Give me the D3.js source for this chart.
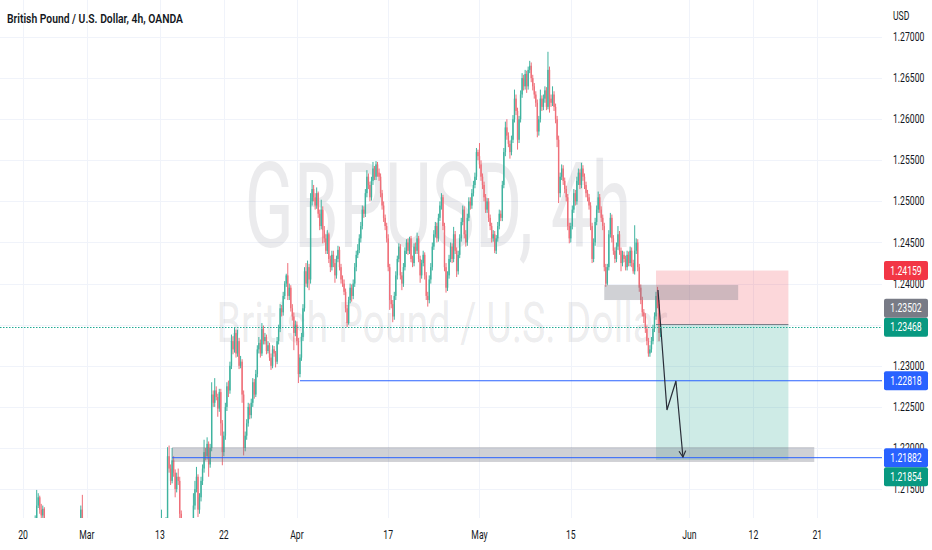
<!DOCTYPE html>
<html>
<head>
<meta charset="utf-8">
<script src="https://cdn.jsdelivr.net/npm/d3@7"></script>
<style>
body{margin:0;background:#fff;}
svg{display:block;font-family:Roboto,"Noto Sans",sans-serif;}
</style>
</head>
<body>
<svg id="chart" width="932" height="550"></svg>
<script>
// 4h candles, GBPUSD, Feb 20 -> May 26. values in pips above 1.2000, one line per week
// open of each candle is the previous close
var firstOpen = 35;
var closePips = [
	40,45,38,52,60,58, 70,85,110,130,140,125, 118,126,105,80,70,60, 50,35,20,10,0,5, -10,-20,-40,-55,-60,-70,
	-50,-30,-10,20,50,60, 80,100,125,98,85,80, 70,60,40,30,20,30, 20,10,-20,-30,-10,-15, -10,10,20,35,30,20,
	30,25,15,0,-20,-30, -40,-50,-100,-150,-160,-165, -170,-180,-190,-175,-160,-165, -150,-130,-120,-100,-90,-85, -80,-60,-30,0,20,30,
	70,100,95,105,110,190, 175,160,185,170,150,165, 160,120,80,60,70,90, 85,95,100,105,130,150, 165,125,140,160,175,195,
	190,205,180,200,265,255, 270,262,248,268,230,195, 215,250,275,270,300,330, 320,340,315,330,300,305, 265,200,215,230,250,240,
	255,280,265,290,320,328, 315,345,330,335,318,325, 310,300,320,315,305,330, 345,370,365,385,400,410, 385,395,370,360,340,350,
	330,290,310,335,370,415, 400,420,405,500,515,505, 495,510,485,470,490,465, 455,440,460,430,420,435, 425,410,430,441,420,405,
	400,390,370,352,380,395, 385,400,420,435,441,455, 470,490,485,510,530,520, 505,525,540,530,545,535, 530,510,495,480,470,455,
	420,380,375,360,385,410, 430,445,410,400,420,440, 450,440,455,430,425,445, 440,455,430,410,425,435, 410,385,380,405,420,445,
	460,470,455,480,495,505, 470,420,395,410,430,445, 430,460,440,415,435,455, 475,490,460,450,480,500, 495,510,520,530,560,555,
	545,530,520,505,490,500, 480,470,455,460,440,455, 470,485,480,520,560,590, 580,570,560,575,600,625, 610,575,600,630,650,640,
	655,640,660,665,650,640, 630,620,585,600,625,615, 625,635,615,660,625,620, 630,615,600,575,510,530, 540,525,515,505,470,455,
	470,490,510,500,525,535, 520,540,530,520,510,505, 495,470,430,450,475,490, 505,490,480,470,420,400, 420,460,480,455,440,430,
	445,460,440,425,435,430, 420,435,425,440,425,415, 440,450,420,395,380,365, 360,345,330,315,320,330, 345,360,385,375,340,347
];
var highPips = [
	44,49,47,55,64,63, 74,90,118,149,145,142, 132,130,128,110,85,75, 64,53,38,24,13,9, 8,-6,-16,-36,-50,-56,
	-46,-26,-5,25,56,66, 85,105,130,143,100,90, 84,74,63,45,34,34, 34,24,14,-15,-6,-6, -6,15,25,40,39,34,
	34,34,28,19,4,-15, -26,-36,-45,-95,-145,-156, -160,-166,-176,-171,-155,-156, -146,-125,-115,-95,-86,-80, -75,-55,-25,5,26,35,
	76,125,104,110,116,201, 203,180,200,190,174,170, 175,165,124,85,74,94, 94,99,104,110,145,160, 177,168,145,165,180,210,
	200,213,208,205,280,270, 285,275,266,272,272,234, 220,255,280,282,305,338, 336,346,344,344,334,312, 308,270,220,235,255,254,
	260,285,284,295,325,335, 332,352,349,340,338,330, 328,315,325,324,318,335, 350,375,374,390,403,412, 425,400,398,375,365,355,
	354,334,314,340,375,420, 425,428,424,510,526,520, 510,517,512,490,502,494, 470,460,465,462,434,440, 440,430,434,446,445,424,
	410,405,394,374,384,400, 399,405,425,440,448,460, 475,495,494,515,538,534, 524,530,548,543,549,548, 540,534,514,500,484,474,
	460,424,386,380,390,415, 434,449,448,414,425,444, 454,455,457,458,434,449, 450,462,458,434,429,440, 438,414,390,410,425,450,
	465,475,474,485,500,510, 508,474,425,415,435,450, 449,469,464,444,440,460, 480,495,494,465,485,505, 505,515,525,535,565,563,
	571,550,534,524,509,504, 504,484,474,465,464,459, 475,490,489,525,565,597, 600,584,574,580,605,636, 630,614,604,635,656,654,
	660,659,664,671,669,654, 644,634,624,604,636,629, 630,640,639,682,664,630, 640,634,619,604,580,535, 545,544,529,519,509,474,
	474,495,515,514,530,540, 539,547,544,534,524,514, 509,499,474,455,480,495, 512,509,494,484,474,424, 424,465,486,484,459,444,
	450,470,464,444,440,439, 434,440,439,445,444,429, 471,455,454,424,399,384, 369,364,349,334,325,335, 350,365,390,396,380,352
];
var lowPips = [
	31,37,35,36,49,55, 55,66,82,106,127,120, 112,115,100,76,64,55, 46,30,15,4,-4,-3, -14,-25,-46,-60,-66,-75,
	-74,-54,-34,-14,15,46, 56,76,96,95,80,75, 66,55,35,25,15,17, 16,5,-25,-36,-34,-19, -19,-14,6,16,26,15,
	16,21,11,-5,-25,-35, -45,-56,-106,-156,-166,-170, -175,-185,-197,-194,-179,-170, -170,-155,-135,-125,-105,-94, -90,-85,-64,-35,-4,15,
	26,65,90,90,100,105, 170,155,157,165,140,146, 155,100,75,55,54,66, 80,81,91,96,100,125, 146,116,120,135,155,170,
	185,186,165,176,196,250, 250,258,238,244,215,179, 190,210,245,262,266,296, 314,316,310,311,296,297, 255,191,196,210,226,235,
	236,250,260,262,286,315, 310,312,326,326,314,315, 306,295,297,311,298,302, 326,341,360,361,381,396, 380,380,366,355,319,336,
	325,279,286,306,330,366, 396,395,392,400,495,500, 490,491,480,465,466,449, 450,436,436,425,414,416, 420,401,406,426,416,400,
	396,386,365,347,350,376, 378,381,396,415,431,437, 450,466,480,481,505,515, 500,501,520,526,526,530, 525,505,490,475,465,450,
	415,368,370,353,356,380, 405,426,405,392,396,416, 436,435,436,426,420,421, 436,436,426,401,406,421, 405,380,372,376,400,416,
	441,456,450,451,476,490, 465,415,389,391,406,426, 425,426,436,408,411,431, 451,471,455,445,446,476, 490,491,506,516,526,550,
	540,525,515,500,486,486, 475,465,450,451,437,436, 451,466,476,476,516,555, 575,566,552,556,571,596, 605,563,571,596,626,635,
	636,632,636,656,645,635, 625,615,578,580,596,610, 611,620,611,612,608,615, 616,610,595,566,498,505, 526,520,510,500,465,449,
	450,466,486,495,496,520, 515,516,525,515,505,500, 490,465,425,426,446,471, 486,486,475,465,415,396, 398,416,456,450,435,425,
	426,441,435,415,421,426, 416,416,421,421,420,412, 411,436,415,390,375,360, 352,340,325,311,311,316, 326,341,356,370,330,335
];

// time axis (trading-day index, 6 candles a day)
var dayTicks = [0, 7, 15, 22, 30, 40, 50, 60, 73, 80, 87];
var dayLabels = ['20', 'Mar', '13', '22', 'Apr', '17', 'May', '15', 'Jun', '12', '21'];
var priceTicks = [1.27, 1.265, 1.26, 1.255, 1.25, 1.245, 1.24, 1.235, 1.23, 1.225, 1.22, 1.215];

var lastPrice = 1.23468;
// short position tool
var stopPrice = 1.24159;
var entryPrice = 1.23502;
var targetPrice = 1.21854;
var positionFrom = 416, positionTo = 503;
// horizontal levels
var levelPrices = [1.22818, 1.21882];
var levelFrom = [182, 98];
// grey zones
var zoneFrom = [98, 382];
var zoneTo = [520, 470];
var zoneTop = [1.22012, 1.23983];
var zoneBottom = [1.21830, 1.23800];
// projected path
var pathIdx = [417.3, 423.2, 429.1, 433.7];
var pathPrice = [1.23922, 1.22462, 1.22815, 1.21890];

var W = 932, H = 550, plotRight = 882, plotBottom = 518;
var svg = d3.select('#chart');

var x = d3.scaleLinear().domain([0, 87 * 6]).range([23, 817.3]);
var y = d3.scaleLinear().domain([1.215, 1.27]).range([489.1, 37]);

function toPrice(v){ return 1.2 + v / 10000; }

var candles = closePips.map(function(c, i){
	var o = i == 0 ? firstOpen : closePips[i - 1];
	return {i: i, o: toPrice(o), h: toPrice(highPips[i]), l: toPrice(lowPips[i]), c: toPrice(c)};
});

// text squeezed horizontally like the snapshot
function txt(g, px, py, s, size, fill, anchor){
	return g.append('text')
		.attr('transform', 'translate(' + px + ',' + py + ') scale(0.72,1)')
		.attr('text-anchor', anchor || 'start')
		.attr('dominant-baseline', 'central')
		.attr('font-size', size)
		.attr('fill', fill)
		.text(s);
}

svg.append('defs').append('clipPath').attr('id', 'plotclip')
	.append('rect').attr('x', 0).attr('y', 0).attr('width', plotRight).attr('height', plotBottom);

// grid
var grid = svg.append('g').attr('stroke', '#f0f3fa').attr('stroke-width', 1);
grid.selectAll('.hg').data(priceTicks).enter().append('line')
	.attr('x1', 0).attr('x2', plotRight)
	.attr('y1', function(d){ return Math.round(y(d)) + 0.5; })
	.attr('y2', function(d){ return Math.round(y(d)) + 0.5; });
grid.selectAll('.vg').data(dayTicks).enter().append('line')
	.attr('y1', 0).attr('y2', plotBottom)
	.attr('x1', function(d){ return Math.round(x(d * 6)) + 0.5; })
	.attr('x2', function(d){ return Math.round(x(d * 6)) + 0.5; });

// watermark
var wm = svg.append('g').attr('fill', '#787b86').attr('fill-opacity', 0.15).attr('text-anchor', 'middle');
wm.append('text').attr('x', 438).attr('y', 247).attr('font-size', 118)
	.attr('textLength', 387).attr('lengthAdjust', 'spacingAndGlyphs').text('GBPUSD, 4h');
wm.append('text').attr('x', 442).attr('y', 342).attr('font-size', 55)
	.attr('textLength', 451).attr('lengthAdjust', 'spacingAndGlyphs').text('British Pound / U.S. Dollar');

var plot = svg.append('g').attr('clip-path', 'url(#plotclip)');

// candles
var cg = plot.append('g');
cg.selectAll('line').data(candles).enter().append('line')
	.attr('x1', function(d){ return x(d.i); })
	.attr('x2', function(d){ return x(d.i); })
	.attr('y1', function(d){ return y(d.h); })
	.attr('y2', function(d){ return y(d.l); })
	.attr('stroke', function(d){ return d.c >= d.o ? '#3fb39f' : '#ef6f79'; })
	.attr('stroke-width', 1);
cg.selectAll('rect').data(candles).enter().append('rect')
	.attr('x', function(d){ return x(d.i) - 0.7; })
	.attr('width', 1.4)
	.attr('y', function(d){ return y(Math.max(d.o, d.c)); })
	.attr('height', function(d){ return Math.max(1, Math.abs(y(d.o) - y(d.c))); })
	.attr('fill', function(d){ return d.c >= d.o ? '#3fb39f' : '#ef6f79'; });

// position tool
plot.append('rect')
	.attr('x', x(positionFrom)).attr('width', x(positionTo) - x(positionFrom))
	.attr('y', y(stopPrice)).attr('height', y(entryPrice) - y(stopPrice))
	.attr('fill', 'rgba(242,54,69,0.2)');
plot.append('rect')
	.attr('x', x(positionFrom)).attr('width', x(positionTo) - x(positionFrom))
	.attr('y', y(entryPrice)).attr('height', y(targetPrice) - y(entryPrice))
	.attr('fill', 'rgba(8,153,129,0.2)');
plot.append('line')
	.attr('x1', x(positionFrom)).attr('x2', x(positionTo))
	.attr('y1', y(entryPrice)).attr('y2', y(entryPrice))
	.attr('stroke', '#787b86').attr('stroke-width', 1);

// grey zones
plot.selectAll('.zone').data(zoneFrom).enter().append('rect')
	.attr('x', function(d){ return x(d); })
	.attr('width', function(d, i){ return x(zoneTo[i]) - x(d); })
	.attr('y', function(d, i){ return y(zoneTop[i]); })
	.attr('height', function(d, i){ return y(zoneBottom[i]) - y(zoneTop[i]); })
	.attr('fill', 'rgba(120,123,134,0.35)');

// levels
plot.selectAll('.lvl').data(levelPrices).enter().append('line')
	.attr('x1', function(d, i){ return x(levelFrom[i]); })
	.attr('x2', plotRight)
	.attr('y1', function(d){ return y(d); })
	.attr('y2', function(d){ return y(d); })
	.attr('stroke', '#2962ff').attr('stroke-width', 1);

// path with arrow
var pts = pathIdx.map(function(d, i){ return [x(d), y(pathPrice[i])]; });
plot.append('path')
	.attr('d', d3.line()(pts))
	.attr('fill', 'none').attr('stroke', '#2a2e39').attr('stroke-width', 1.2);
var tip = pts[pts.length - 1], prev = pts[pts.length - 2];
var ang = Math.atan2(tip[1] - prev[1], tip[0] - prev[0]);
var head = [
	[tip[0] - 7 * Math.cos(ang - 0.5), tip[1] - 7 * Math.sin(ang - 0.5)],
	tip,
	[tip[0] - 7 * Math.cos(ang + 0.5), tip[1] - 7 * Math.sin(ang + 0.5)]
];
plot.append('path')
	.attr('d', d3.line()(head))
	.attr('fill', 'none').attr('stroke', '#2a2e39').attr('stroke-width', 1.2);

// last price dotted line
svg.append('line')
	.attr('x1', 0).attr('x2', plotRight)
	.attr('y1', Math.round(y(lastPrice)) + 0.5).attr('y2', Math.round(y(lastPrice)) + 0.5)
	.attr('stroke', '#22ab94').attr('stroke-width', 1).attr('stroke-dasharray', '1.5,1.5');

// title
svg.append('text').attr('x', 7).attr('y', 23)
	.attr('font-size', 13.5).attr('font-weight', 600).attr('fill', '#131722')
	.attr('textLength', 176).attr('lengthAdjust', 'spacingAndGlyphs')
	.text('British Pound / U.S. Dollar, 4h, OANDA');

// price tags, first ones keep their place, later ones are pushed away
var tagPrices = [lastPrice, levelPrices[0], levelPrices[1], stopPrice, entryPrice, targetPrice];
var tagColors = ['#089981', '#2962ff', '#2962ff', '#f23645', '#787b86', '#089981'];
var placed = [];
tagPrices.forEach(function(p, i){
	var c = y(p);
	placed.forEach(function(q){
		if (Math.abs(c - q.c) < 19)
			c = p > q.p ? q.c - 19 : q.c + 19;
	});
	placed.push({p: p, c: c, color: tagColors[i]});
});

// price axis, a tick label sitting right under a tag is not drawn
var ax = svg.append('g');
txt(ax, 893, 16, 'USD', 12, '#131722');
priceTicks.forEach(function(p){
	var hidden = placed.some(function(t){ return Math.abs(t.c - y(p)) < 6; });
	if (!hidden)
		txt(ax, 893, y(p), p.toFixed(5), 12, '#131722');
});

// date axis
dayTicks.forEach(function(d, i){
	txt(ax, x(d * 6), 535, dayLabels[i], 12, '#131722', 'middle');
});

var tags = svg.append('g');
placed.forEach(function(t){
	tags.append('rect')
		.attr('x', 884).attr('y', t.c - 9.5).attr('width', 44).attr('height', 19).attr('rx', 2)
		.attr('fill', t.color);
	txt(tags, 906, t.c, t.p.toFixed(5), 12, '#ffffff', 'middle');
});
</script>
</body>
</html>
